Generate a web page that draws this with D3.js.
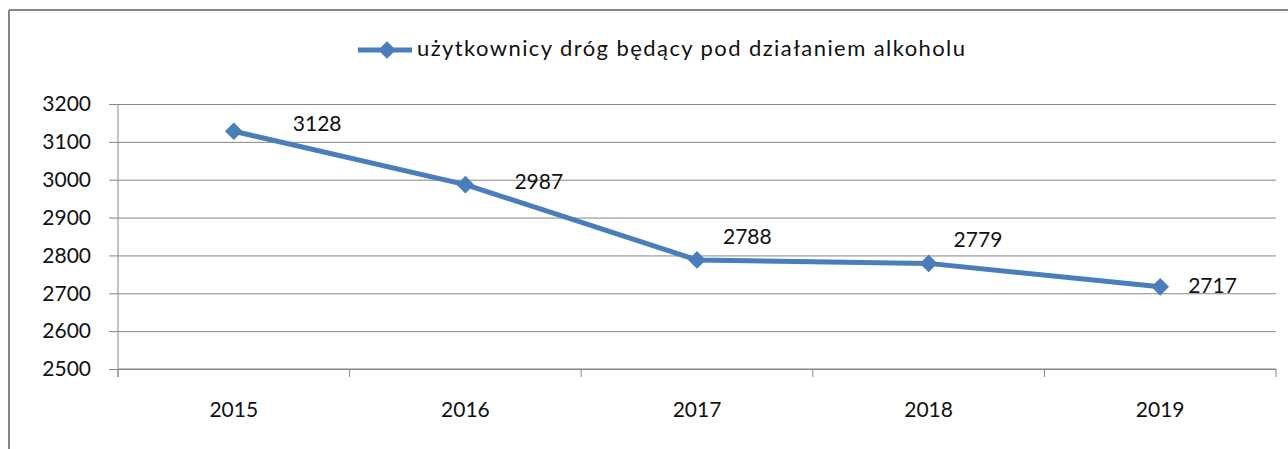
<!DOCTYPE html>
<html>
<head>
<meta charset="utf-8">
<script src="https://d3js.org/d3.v7.min.js"></script>
<style>
  body { margin: 0; background: #fff; }
  svg text { font-family: Lato, "Open Sans", sans-serif; fill: #111; }
</style>
</head>
<body>
<svg width="1288" height="449"></svg>
<script>
  // Data
  const years = ['2015', '2016', '2017', '2018', '2019'];
  const values = [3128, 2987, 2788, 2779, 2717];
  const yTicks = [2500, 2600, 2700, 2800, 2900, 3000, 3100, 3200];
  const seriesName = 'użytkownicy dróg będący pod działaniem alkoholu';

  // label nudges (px) so numbers sit like in the original
  const labelShift = [[59, -6], [49, -1], [26, -21], [25, -22], [28, 1]];

  const blue = '#4a7ebb';
  const grey = '#868686';

  const margin = {top: 104, right: 12, bottom: 80, left: 118};
  const width = 1288 - margin.left - margin.right;
  const height = 449 - margin.top - margin.bottom;

  const svg = d3.select('svg');

  // outer chart frame (only top and left visible in the crop)
  svg.append('line').attr('x1', 9).attr('x2', 1288).attr('y1', 10).attr('y2', 10)
    .attr('stroke', grey).attr('stroke-width', 2);
  svg.append('line').attr('x1', 9).attr('x2', 9).attr('y1', 10).attr('y2', 449)
    .attr('stroke', grey).attr('stroke-width', 2);

  const chart = svg.append('g').attr('transform', 'translate(' + margin.left + ',' + margin.top + ')');

  const x = d3.scaleBand().domain(years).range([0, width]);
  const y = d3.scaleLinear().domain([2500, 3200]).range([height, 0]);

  // gridlines + y ticks
  chart.append('g')
    .call(d3.axisLeft(y).tickValues(yTicks).tickSize(-width - 9).tickPadding(18).tickFormat(d3.format('d')))
    .call(g => g.select('.domain').remove())
    .call(g => g.selectAll('.tick line').attr('stroke', grey).attr('x1', -9).attr('x2', width))
    .call(g => g.selectAll('.tick text').attr('font-size', 21).attr('x', -27));

  // y axis line
  chart.append('line').attr('x1', 0).attr('x2', 0).attr('y1', 0).attr('y2', height + 8)
    .attr('stroke', grey);

  // x axis with tick marks between categories
  const xg = chart.append('g').attr('transform', 'translate(0,' + height + ')');
  xg.append('line').attr('x1', 0).attr('x2', width).attr('stroke', grey);
  xg.selectAll('.sep')
    .data(d3.range(years.length + 1)).enter()
    .append('line')
    .attr('x1', i => i * x.step()).attr('x2', i => i * x.step())
    .attr('y1', 0).attr('y2', 8)
    .attr('stroke', grey);
  xg.selectAll('.lbl')
    .data(years).enter()
    .append('text')
    .attr('x', d => x(d) + x.bandwidth() / 2)
    .attr('y', 43)
    .attr('text-anchor', 'middle')
    .attr('dominant-baseline', 'middle')
    .attr('font-size', 21)
    .text(d => d);

  const pts = years.map((d, i) => ({year: d, v: values[i]}));
  const line = d3.line().x(d => x(d.year) + x.bandwidth() / 2).y(d => y(d.v));

  chart.append('path').datum(pts)
    .attr('fill', 'none').attr('stroke', blue).attr('stroke-width', 5)
    .attr('d', line);

  const diamond = d3.symbol().type(d3.symbolDiamond2).size(200);
  chart.selectAll('.pt')
    .data(pts).enter()
    .append('path')
    .attr('transform', d => 'translate(' + (x(d.year) + x.bandwidth() / 2) + ',' + y(d.v) + ')')
    .attr('d', diamond)
    .attr('fill', blue);

  chart.selectAll('.val')
    .data(pts).enter()
    .append('text')
    .attr('x', (d, i) => x(d.year) + x.bandwidth() / 2 + labelShift[i][0])
    .attr('y', (d, i) => y(d.v) + labelShift[i][1])
    .attr('dominant-baseline', 'middle')
    .attr('font-size', 21)
    .text(d => d.v);

  // legend
  const leg = svg.append('g').attr('transform', 'translate(358,50)');
  leg.append('line').attr('x1', 0).attr('x2', 54).attr('stroke', blue).attr('stroke-width', 5);
  leg.append('path').attr('transform', 'translate(29,0)').attr('d', diamond).attr('fill', blue);
  leg.append('text')
    .attr('x', 59).attr('y', 0)
    .attr('dominant-baseline', 'middle')
    .attr('font-size', 22)
    .attr('textLength', 548)
    .attr('lengthAdjust', 'spacing')
    .text(seriesName);
</script>
</body>
</html>
